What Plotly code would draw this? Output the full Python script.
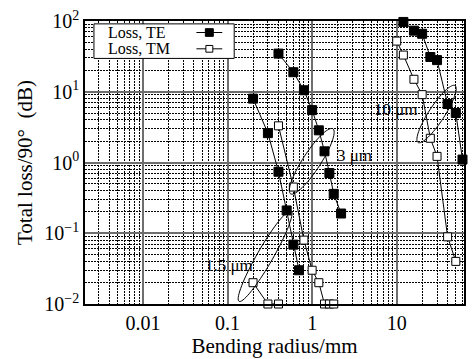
import math
import plotly.graph_objects as go

# ---------------- data ----------------
te_15_x = [0.2, 0.3, 0.4, 0.5, 0.6, 0.7]
te_15_y = [8.0, 2.6, 0.74, 0.21, 0.069, 0.030]
tm_15_x = [0.2, 0.3, 0.4]
tm_15_y = [0.020, 0.010, 0.010]

te_3_x = [0.4, 0.6, 0.8, 1.0, 1.2, 1.4, 1.6, 1.8, 2.2]
te_3_y = [34.6, 18.9, 10.5, 5.5, 2.85, 1.44, 0.71, 0.36, 0.19]
tm_3_x = [0.4, 0.6, 0.8, 1.0, 1.2, 1.4, 1.6, 1.8]
tm_3_y = [3.3, 0.45, 0.080, 0.030, 0.020, 0.010, 0.010, 0.010]

te_10_x = [12, 16, 20, 25, 30, 40, 50, 60]
te_10_y = [97, 73, 66, 31, 28, 6.7, 5.0, 1.1]
tm_10_x = [10, 12, 16, 20, 25, 30, 40, 50]
tm_10_y = [52, 33, 15, 9.1, 2.2, 1.22, 0.089, 0.040]

x_tickvals = [0.01, 0.1, 1, 10]
x_ticktext = ["0.01", "0.1", "1", "10"]
y_tickvals = [100, 10, 1, 0.1, 0.01]
y_ticktext = ["10<sup>2</sup>", "10<sup>1</sup>", "10<sup>0</sup>",
              "10<sup>\u22121</sup>", "10<sup>\u22122</sup>"]

width_labels = ["1.5 \u03bcm", "3 \u03bcm", "10 \u03bcm"]
label_pos = [(0.105, 0.0348), (3.2, 1.26), (9.9, 5.66)]
# ellipse: center (data), semi-axes (px), angle (deg)
ellipses = [((0.278, 0.0476), 54, 8, 61), ((0.99, 1.04), 40, 9, 58), ((29.6, 4.84), 35, 8, 58)]

# ---------------- layout geometry ----------------
W, H = 474, 359
ML, MR, MT, MB = 85, 8, 15, 49
PW, PH = W - ML - MR, H - MT - MB
XR = [-2.686, 1.796]
YR = [-2.0, 2.0]
FONT = "Liberation Serif, Times New Roman, serif"

fig = go.Figure()

def add_series(x, y, filled):
    fig.add_trace(go.Scatter(
        x=x, y=y, mode="lines+markers", showlegend=False, cliponaxis=False,
        line=dict(color="black", width=1),
        marker=dict(symbol="square", size=9 if filled else 8,
                    color="black" if filled else "white",
                    line=dict(color="black", width=1)),
    ))

add_series(te_15_x, te_15_y, True)
add_series(tm_15_x, tm_15_y, False)
add_series(te_3_x, te_3_y, True)
add_series(tm_3_x, tm_3_y, False)
add_series(te_10_x, te_10_y, True)
add_series(tm_10_x, tm_10_y, False)

def to_paper(xv, yv):
    return ((math.log10(xv) - XR[0]) / (XR[1] - XR[0]),
            (math.log10(yv) - YR[0]) / (YR[1] - YR[0]))

shapes = []
for (cx, cy), a, b, ang in ellipses:
    px0, py0 = to_paper(cx, cy)
    th = math.radians(ang)
    pts = []
    n = 72
    for i in range(n + 1):
        t = 2 * math.pi * i / n
        dx = a * math.cos(th) * math.cos(t) - b * math.sin(th) * math.sin(t)
        dy = a * math.sin(th) * math.cos(t) + b * math.cos(th) * math.sin(t)
        pts.append((px0 + dx / PW, py0 + dy / PH))
    path = "M " + " L ".join(f"{x:.5f},{y:.5f}" for x, y in pts) + " Z"
    shapes.append(dict(type="path", xref="paper", yref="paper", path=path,
                       line=dict(color="black", width=1)))

# custom legend (text left, symbol right)
def pxp(px, py):
    return ((px - ML) / PW, 1 - (py - MT) / PH)

lx0, ly0 = pxp(94, 18)
lx1, ly1 = pxp(235, 54)
shapes.append(dict(type="rect", xref="paper", yref="paper", x0=lx0, y0=ly1, x1=lx1, y1=ly0,
                   line=dict(color="black", width=1), fillcolor="white", layer="above"))
annotations = []
for i, (name, filled) in enumerate([("Loss, TE", True), ("Loss, TM", False)]):
    yc = 27 + 17 * i
    a0 = pxp(197, yc)
    a1 = pxp(223, yc)
    shapes.append(dict(type="line", xref="paper", yref="paper", x0=a0[0], y0=a0[1], x1=a1[0], y1=a1[1],
                       line=dict(color="black", width=1), layer="above"))
    s = 4 if filled else 3.5
    r0 = pxp(210 - s, yc - s)
    r1 = pxp(210 + s, yc + s)
    shapes.append(dict(type="rect", xref="paper", yref="paper", x0=r0[0], y0=r1[1], x1=r1[0], y1=r0[1],
                       line=dict(color="black", width=1),
                       fillcolor="black" if filled else "white", layer="above"))
    tp = pxp(107, yc)
    annotations.append(dict(xref="paper", yref="paper", x=tp[0], y=tp[1], text=name,
                            showarrow=False, xanchor="left", yanchor="middle", borderpad=0,
                            font=dict(family=FONT, size=16, color="black")))

for txt, (xv, yv) in zip(width_labels, label_pos):
    annotations.append(dict(x=math.log10(xv), y=math.log10(yv), xref="x", yref="y",
                            text=txt, showarrow=False, xanchor="center", yanchor="middle",
                            font=dict(family=FONT, size=17, color="black")))

axis_common = dict(
    type="log", showline=True, linecolor="black", linewidth=1.5, mirror=True,
    ticks="", showgrid=True, gridcolor="#6e6e6e", gridwidth=2, zeroline=False,
    tickfont=dict(family=FONT, size=20, color="black"),
    minor=dict(dtick="D1", showgrid=True, gridcolor="black", gridwidth=1, griddash="2px,1px", ticks=""),
)

fig.update_layout(
    width=W, height=H, margin=dict(l=ML, r=MR, t=MT, b=MB),
    paper_bgcolor="white", plot_bgcolor="white",
    font=dict(family=FONT, color="black"),
    xaxis=dict(axis_common, range=XR, tickmode="array", tickvals=x_tickvals, ticktext=x_ticktext,
               title=dict(text="Bending radius/mm", font=dict(family=FONT, size=21), standoff=3)),
    yaxis=dict(axis_common, range=YR, tickmode="array", tickvals=y_tickvals, ticktext=y_ticktext,
               title=dict(text="Total loss/90\u00b0  (dB)", font=dict(family=FONT, size=21), standoff=6)),
    shapes=shapes, annotations=annotations, showlegend=False,
)

fig.write_html("out.html")
